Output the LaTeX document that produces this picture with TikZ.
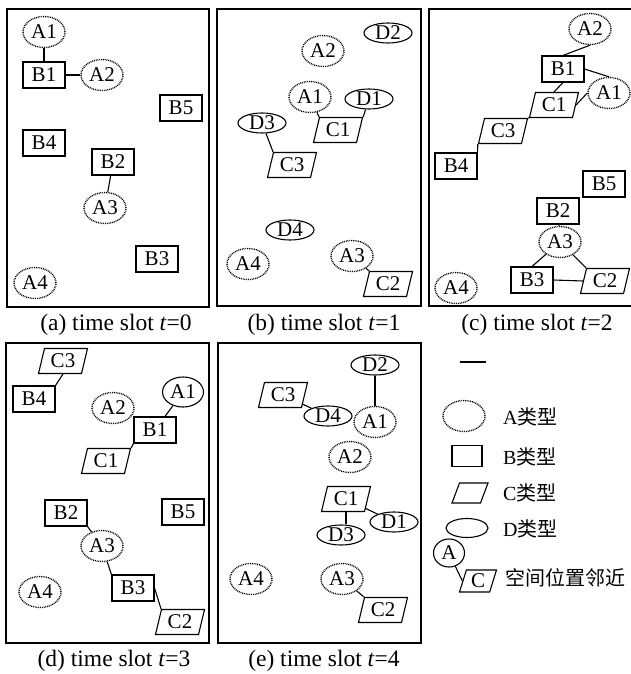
\documentclass[tikz,border=0pt]{standalone}
\usepackage{fontspec}
\setmainfont{Liberation Serif}
\newfontfamily\cjk{Noto Sans CJK SC}
\usetikzlibrary{shapes.geometric}
\newcommand{\nodefnt}{\fontsize{21}{23}\selectfont}
\newcommand{\capfnt}{\fontsize{23.5}{26}\selectfont}
\newcommand{\lgfnt}{\fontsize{20}{22}\selectfont}
\begin{document}
\begin{tikzpicture}[x=1pt,y=-1pt,
  base/.style={draw, line width=1.1pt, inner sep=0pt, font=\nodefnt},
  atype/.style={base, ellipse, line width=1.4pt, dash pattern=on 0.9pt off 0.9pt, minimum width=42pt, minimum height=31pt},
  asolid/.style={base, ellipse, minimum width=41pt, minimum height=30pt},
  btype/.style={base, rectangle, minimum width=42pt, minimum height=26pt},
  ctype/.style={base, trapezium, trapezium left angle=67, trapezium right angle=113,
     trapezium stretches body=true, minimum width=49pt, minimum height=25pt},
  dtype/.style={base, ellipse, minimum width=48pt, minimum height=20pt},
  link/.style={line width=1.1pt},
  frame/.style={line width=1.3pt},
  capt/.style={font=\capfnt, inner sep=0pt},
  lgtext/.style={font=\lgfnt, anchor=west, inner sep=0pt}
]
\useasboundingbox (0,0) rectangle (631,674);

% frames
\draw[frame] (7,9) rectangle (209,307);
\draw[frame] (217,9) rectangle (421,306);
\draw[frame] (429,9) rectangle (640,306);
\draw[frame] (6,343) rectangle (209,643);
\draw[frame] (218,343) rectangle (421,643);

% ---------- (a) ----------
\node[atype] (a-A1) at (44,32) {A1};
\node[btype] (a-B1) at (44,75) {B1};
\node[atype] (a-A2) at (102,75) {A2};
\node[btype] (a-B5) at (181,108) {B5};
\node[btype] (a-B4) at (44,143) {B4};
\node[btype] (a-B2) at (113,162) {B2};
\node[atype] (a-A3) at (105,208) {A3};
\node[btype] (a-B3) at (157,259) {B3};
\node[atype] (a-A4) at (35,283) {A4};
\draw[link] (a-A1) -- (a-B1);
\draw[link] (a-B1) -- (a-A2);
\draw[link] (a-B2) -- (a-A3);
\node[capt] (cap-a) at (116,325) {(a) time slot \textit{t}=0};

% ---------- (b) ----------
\node[dtype] (b-D2) at (388,33) {D2};
\node[atype] (b-A2) at (323,51) {A2};
\node[atype] (b-A1) at (310,97) {A1};
\node[dtype] (b-D1) at (369,99) {D1};
\node[ctype] (b-C1) at (338,130) {C1};
\node[dtype] (b-D3) at (262,123) {D3};
\node[ctype] (b-C3) at (292,165) {C3};
\node[dtype] (b-D4) at (290,230) {D4};
\node[atype] (b-A4) at (248,264) {A4};
\node[atype] (b-A3) at (352,256) {A3};
\node[ctype] (b-C2) at (388,284) {C2};
\draw[link] (b-A1) -- (b-C1.top left corner);
\draw[link] (b-D1) -- (b-C1.top right corner);
\draw[link] (b-D3) -- (b-C3.top left corner);
\draw[link] (b-A3) -- (b-C2.top left corner);
\node[capt] (cap-b) at (324,325) {(b) time slot \textit{t}=1};

% ---------- (c) ----------
\node[atype] (c-A2) at (590,29) {A2};
\node[btype] (c-B1) at (563,69) {B1};
\node[atype] (c-A1) at (609,93) {A1};
\node[ctype] (c-C1) at (554,105) {C1};
\node[ctype] (c-C3) at (503,131) {C3};
\node[btype] (c-B4) at (456,166) {B4};
\node[btype] (c-B5) at (604,184) {B5};
\node[btype] (c-B2) at (558,211) {B2};
\node[atype] (c-A3) at (560,242) {A3};
\node[btype] (c-B3) at (532,280) {B3};
\node[ctype] (c-C2) at (605,281) {C2};
\node[atype] (c-A4) at (456,288) {A4};
\draw[link] (c-A2.south) -- (c-B1.north);
\draw[link] (c-B1.east) -- (c-A1.north);
\draw[link] (c-B1.south) -- (c-C1.north);
\draw[link] (c-C1.east) -- (c-A1.west);
\draw[link] (c-C3.top right corner) -- (c-C1.bottom left corner);
\draw[link] (c-B4.north east) -- (c-C3.bottom left corner);
\draw[link] (c-B2) -- (c-A3);
\draw[link] (c-A3) -- (c-B3.north);
\draw[link] (c-A3) -- (c-C2.top left corner);
\draw[link] (c-B3.east) -- (c-C2.west);
\node[capt] (cap-c) at (537,325) {(c) time slot \textit{t}=2};

% ---------- (d) ----------
\node[ctype] (d-C3) at (63,361) {C3};
\node[btype] (d-B4) at (34,399) {B4};
\node[asolid] (d-A1) at (183,392) {A1};
\node[atype] (d-A2) at (113,408) {A2};
\node[btype] (d-B1) at (155,430) {B1};
\node[ctype] (d-C1) at (106,461) {C1};
\node[btype] (d-B2) at (66,513) {B2};
\node[btype] (d-B5) at (183,512) {B5};
\node[atype] (d-A3) at (102,546) {A3};
\node[btype] (d-B3) at (133,588) {B3};
\node[atype] (d-A4) at (40,592) {A4};
\node[ctype] (d-C2) at (180,622) {C2};
\draw[link] (d-C3.south) -- (d-B4.north east);
\draw[link] (d-A1) -- (d-B1);
\draw[link] (d-B1.south west) -- (d-C1.top right corner);
\draw[link] (d-B2.south east) -- (d-A3);
\draw[link] (d-A3) -- (d-B3.north west);
\draw[link] (d-B3.east) -- (d-C2.top left corner);
\node[capt] (cap-d) at (114,661) {(d) time slot \textit{t}=3};

% ---------- (e) ----------
\node[dtype] (e-D2) at (375,365) {D2};
\node[ctype] (e-C3) at (283,395) {C3};
\node[dtype] (e-D4) at (328,416) {D4};
\node[atype] (e-A1) at (375,422) {A1};
\node[atype] (e-A2) at (350,457) {A2};
\node[ctype] (e-C1) at (346,499) {C1};
\node[dtype] (e-D1) at (394,522) {D1};
\node[dtype] (e-D3) at (341,535) {D3};
\node[atype] (e-A4) at (251,579) {A4};
\node[atype] (e-A3) at (342,579) {A3};
\node[ctype] (e-C2) at (383,610) {C2};
\draw[link] (e-D2) -- (e-A1);
\draw[link] (e-C3) -- (e-D4);
\draw[link] (e-C1) -- (e-D1);
\draw[link] (e-C1.south) -- (e-C1.south |- e-D3.north);
\draw[link] (e-A3) -- (e-C2.top left corner);
\node[capt] (cap-e) at (324,661) {(e) time slot \textit{t}=4};

% ---------- legend ----------
\coordinate (lg-l1) at (460,362);
\coordinate (lg-l2) at (486,362);
\draw[link] (lg-l1) -- (lg-l2);
\node[atype] (lg-A) at (464,416) {};
\node[lgtext] (lg-At) at (503,417) {A{\cjk 类型}};
\node[btype, minimum width=30pt, minimum height=21pt] (lg-B) at (467,456) {};
\node[lgtext] (lg-Bt) at (503,457) {B{\cjk 类型}};
\node[ctype, trapezium left angle=62, trapezium right angle=118, minimum width=36pt, minimum height=20pt] (lg-C) at (470,493) {\phantom{C}};
\node[lgtext] (lg-Ct) at (503,493) {C{\cjk 类型}};
\node[dtype, minimum width=42pt, minimum height=19pt] (lg-D) at (467,528) {};
\node[lgtext] (lg-Dt) at (503,529) {D{\cjk 类型}};
\node[base, ellipse, minimum width=31pt, minimum height=28pt] (lg-a) at (449,553) {A};
\node[ctype, trapezium left angle=64, trapezium right angle=116, minimum width=37pt, minimum height=22pt] (lg-c) at (478,581) {C};
\draw[link] (lg-a) -- (lg-c.west);
\node[lgtext, font={\cjk\fontsize{20}{22}\selectfont}] (lg-t) at (505,578) {空间位置邻近};
\end{tikzpicture}
\end{document}
